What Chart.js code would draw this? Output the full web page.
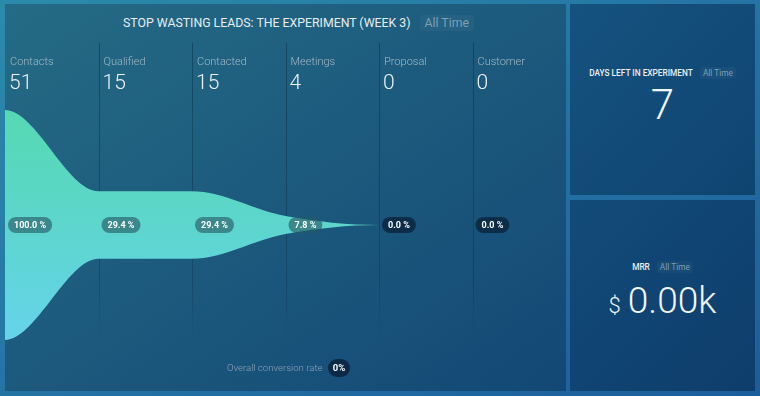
<!DOCTYPE html>
<html>
<head>
<meta charset="utf-8">
<script src="https://cdn.jsdelivr.net/npm/chart.js@4/dist/chart.umd.min.js"></script>
<style>
  html, body { margin: 0; padding: 0; }
  body {
    width: 760px; height: 396px; overflow: hidden; position: relative;
    font-family: Roboto, 'Noto Sans', sans-serif;
    background: linear-gradient(to bottom right, #2c8bab, #1c5d9c);
  }
  .panel { position: absolute; box-sizing: border-box; }
  #main { left: 5px; top: 4px; width: 561px; height: 387px;
    background: linear-gradient(to bottom right, #256b85, #134875); }
  #days { left: 570px; top: 4px; width: 185px; height: 191px;
    background: linear-gradient(to bottom right, #155280, #0f4470); }
  #mrr { left: 570px; top: 200px; width: 185px; height: 191px;
    background: linear-gradient(to bottom right, #124b79, #0e3d6b); }
  #funnelChart { position: absolute; left: 0; top: 0; }
  .title { position: absolute; left: 118px; top: 8px; height: 22px; line-height: 22px;
    color: #e6eef2; font-size: 12.3px; white-space: nowrap; }
  .tag { display: inline-block; color: #7f9fb4; background: rgba(255,255,255,0.035);
    border-radius: 3px; padding: 0 5px; margin-left: 9px; line-height: 16px; }
  .overall { position: absolute; left: 222px; top: 355px; height: 18px; line-height: 18px;
    color: #8aa3b8; font-size: 9.6px; font-weight: 300; white-space: nowrap; }
  .pill { display: inline-block; background: #0c2a45; color: #fff; font-weight: 700;
    font-size: 9.5px; border-radius: 9px; padding: 0 5px; margin-left: 3px; height: 18px; line-height: 18px; }
  .kpi { position: absolute; left: 0; width: 100%; text-align: center; white-space: nowrap; }
  .kpi-head { font-size: 8.3px; font-weight: 500; color: #e8eef3; }
  .kpi-head .tag { font-size: 8.3px; font-weight: 400; margin-left: 7px; line-height: 12px; padding: 0 3px; }
  .kpi-val { color: #f2f6f9; font-weight: 300; }
</style>
</head>
<body>
<div id="main" class="panel">
  <div class="title">STOP WASTING LEADS: THE EXPERIMENT (WEEK 3)<span class="tag">All Time</span></div>
  <canvas id="funnelChart" width="561" height="387"></canvas>
  <div class="overall">Overall conversion rate <span class="pill" id="overallRate"></span></div>
</div>
<div id="days" class="panel">
  <div class="kpi kpi-head" style="top:63px">DAYS LEFT IN EXPERIMENT<span class="tag">All Time</span></div>
  <div class="kpi kpi-val" style="top:76px;font-size:42px;line-height:50px">7</div>
</div>
<div id="mrr" class="panel">
  <div class="kpi kpi-head" style="top:61px">MRR<span class="tag">All Time</span></div>
  <div class="kpi kpi-val" style="top:78px;font-size:37px;line-height:46px"><span style="font-size:22px;margin-right:7px">$</span>0.00k</div>
</div>

<script>
// funnel stages
const stages = ['Contacts', 'Qualified', 'Contacted', 'Meetings', 'Proposal', 'Customer'];
const counts = [51, 15, 15, 4, 0, 0];

const rateLabels = counts.map(c => (c / counts[0] * 100).toFixed(1) + ' %');
document.getElementById('overallRate').innerText =
    Math.round(counts[counts.length - 1] / counts[0] * 100) + '%';

// funnel outline: one point per stage boundary, padded so the ends stay flat
const xs = [-1].concat(stages.map((s, i) => i), [stages.length]);
const vs = [counts[0]].concat(counts, [counts[counts.length - 1]]);
const upper = xs.map((x, i) => ({ x: x, y: vs[i] / 2 }));
const lower = xs.map((x, i) => ({ x: x, y: -vs[i] / 2 }));

function funnelFill(context) {
    const chart = context.chart;
    const area = chart.chartArea;
    if (!area) return '#5dd6cc';
    const g = chart.ctx.createLinearGradient(0, area.top, 0, area.bottom);
    g.addColorStop(0, '#55d9b2');
    g.addColorStop(0.5, '#5dd6cd');
    g.addColorStop(1, '#65d3ea');
    return g;
}

function roundRect(ctx, x, y, w, h, r) {
    ctx.beginPath();
    ctx.moveTo(x + r, y);
    ctx.arcTo(x + w, y, x + w, y + h, r);
    ctx.arcTo(x + w, y + h, x, y + h, r);
    ctx.arcTo(x, y + h, x, y, r);
    ctx.arcTo(x, y, x + w, y, r);
    ctx.closePath();
}

const columnGrid = {
    id: 'columnGrid',
    beforeDatasetsDraw(chart) {
        const ctx = chart.ctx;
        const sx = chart.scales.x;
        ctx.save();
        for (let i = 1; i < stages.length; i++) {
            const x = Math.round(sx.getPixelForValue(i)) + 0.5;
            const g = ctx.createLinearGradient(0, 39, 0, 335);
            g.addColorStop(0, 'rgba(8,38,60,0.45)');
            g.addColorStop(0.8, 'rgba(8,38,60,0.3)');
            g.addColorStop(1, 'rgba(8,38,60,0)');
            ctx.strokeStyle = g;
            ctx.lineWidth = 1;
            ctx.beginPath();
            ctx.moveTo(x, 39);
            ctx.lineTo(x, 335);
            ctx.stroke();
        }
        ctx.restore();
    },
    afterDatasetsDraw(chart) {
        const ctx = chart.ctx;
        const sx = chart.scales.x;
        const sy = chart.scales.y;
        const midY = sy.getPixelForValue(0);
        ctx.save();
        stages.forEach((name, i) => {
            const x = sx.getPixelForValue(i);
            ctx.textAlign = 'left';
            ctx.textBaseline = 'middle';
            ctx.fillStyle = '#a3b9c7';
            ctx.font = '300 11px Roboto';
            ctx.fillText(name, x + 5, 58);
            ctx.fillStyle = '#edf2f5';
            ctx.font = '300 21px Roboto';
            ctx.fillText(String(counts[i]), x + 4, 80);

            ctx.font = 'bold 9px Roboto';
            const w = ctx.measureText(rateLabels[i]).width + 12;
            roundRect(ctx, x + 3, midY - 8, w, 16, 8);
            ctx.fillStyle = counts[i] > 0 ? 'rgba(38,88,100,0.62)' : '#0c2d48';
            ctx.fill();
            ctx.fillStyle = '#ffffff';
            ctx.fillText(rateLabels[i], x + 9, midY + 0.5);
        });
        ctx.restore();
    }
};

new Chart(document.getElementById('funnelChart').getContext('2d'), {
    type: 'line',
    data: {
        datasets: [
            { data: upper, fill: false, borderWidth: 0, borderColor: 'rgba(0,0,0,0)',
              pointRadius: 0, cubicInterpolationMode: 'monotone' },
            { data: lower, fill: '-1', borderWidth: 0, borderColor: 'rgba(0,0,0,0)',
              backgroundColor: funnelFill, pointRadius: 0, cubicInterpolationMode: 'monotone' }
        ]
    },
    options: {
        responsive: false,
        animation: false,
        layout: { padding: { top: 106, bottom: 51, left: 0, right: 0 } },
        scales: {
            x: { type: 'linear', min: 0, max: stages.length, display: false },
            y: { min: -counts[0] / 2, max: counts[0] / 2, display: false }
        },
        plugins: { legend: { display: false }, tooltip: { enabled: false } }
    },
    plugins: [columnGrid]
});
</script>
</body>
</html>
